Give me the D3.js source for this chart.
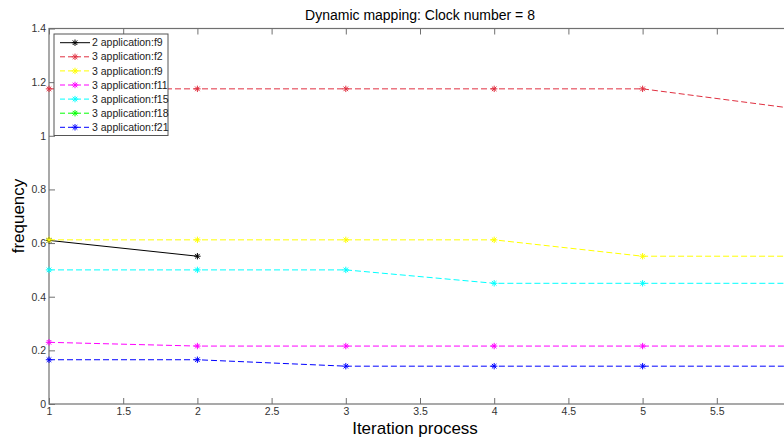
<!DOCTYPE html>
<html><head><meta charset="utf-8">
<script src="https://cdn.jsdelivr.net/npm/d3@7"></script>
<style>html,body{margin:0;padding:0;background:#fff;overflow:hidden}</style>
</head><body><svg id="c" width="784" height="439"></svg>
<script>
const iterations = [1, 2, 3, 4, 5, 6];
const xTicks = [1, 1.5, 2, 2.5, 3, 3.5, 4, 4.5, 5, 5.5];
const yTicks = [0, 0.2, 0.4, 0.6, 0.8, 1, 1.2, 1.4];
const seriesNames = ["2 application:f9","3 application:f2","3 application:f9","3 application:f11","3 application:f15","3 application:f18","3 application:f21"];
const seriesColors = ["#000000","#e03040","#ffff00","#ff00ff","#00ffff","#00ff00","#0000ff"];
const seriesDash = ["none","6,3","6,3","6,3","6,3","6,3","6,3"];
const vBlack   = [0.61, 0.551, null, null, null, null];
const vRed     = [1.175, 1.175, 1.175, 1.175, 1.175, 1.103];
const vYellow  = [0.612, 0.612, 0.612, 0.612, 0.551, 0.551];
const vMagenta = [0.23, 0.216, 0.216, 0.216, 0.216, 0.216];
const vCyan    = [0.50, 0.50, 0.50, 0.45, 0.45, 0.45];
const vGreen   = [null, null, null, null, null, null];
const vBlue    = [0.165, 0.165, 0.141, 0.141, 0.141, 0.141];
const allValues = [vBlack, vRed, vYellow, vMagenta, vCyan, vGreen, vBlue];

const svg = d3.select("#c");
const L = 49, R = 791, T = 28.5, B = 404;
const x = d3.scaleLinear().domain([1, 6]).range([L, R]);
const y = d3.scaleLinear().domain([0, 1.4]).range([B, T]);
const axisColor = "#707070", textColor = "#333";
const font = "Liberation Sans, Arial, sans-serif";

// frame
svg.append("rect").attr("x", L).attr("y", T).attr("width", R - L).attr("height", B - T)
  .attr("fill", "none").attr("stroke", axisColor).attr("stroke-width", 1.2);

const fmt = d => d3.format("")(d);
const xb = svg.append("g").attr("transform", `translate(0,${B})`)
  .call(d3.axisBottom(x).tickValues(xTicks).tickSize(-6).tickPadding(4).tickFormat(fmt));
const xt = svg.append("g").attr("transform", `translate(0,${T})`)
  .call(d3.axisTop(x).tickValues(xTicks).tickSize(-6).tickFormat(""));
const yl = svg.append("g").attr("transform", `translate(${L},0)`)
  .call(d3.axisLeft(y).tickValues(yTicks).tickSize(-6).tickPadding(3).tickFormat(fmt));
const yr = svg.append("g").attr("transform", `translate(${R},0)`)
  .call(d3.axisRight(y).tickValues(yTicks).tickSize(-6).tickFormat(""));
[xb, xt, yl, yr].forEach(g => {
  g.select(".domain").remove();
  g.selectAll(".tick line").attr("stroke", axisColor);
  g.selectAll(".tick text").attr("fill", textColor).attr("font-family", font).attr("font-size", 10.5);
});

// lines
const line = d3.line().defined(d => d.v !== null).x(d => x(d.i)).y(d => y(d.v));
function star(g, cx, cy, color) {
  const s = 3.2, d = 2.3;
  const p = `M${cx - s},${cy}L${cx + s},${cy}M${cx},${cy - s}L${cx},${cy + s}M${cx - d},${cy - d}L${cx + d},${cy + d}M${cx - d},${cy + d}L${cx + d},${cy - d}`;
  g.append("path").attr("d", p).attr("stroke", color).attr("stroke-width", 1).attr("fill", "none");
}
allValues.forEach((vals, k) => {
  const pts = iterations.map((i, j) => ({ i, v: vals[j] }));
  const g = svg.append("g");
  g.append("path").datum(pts).attr("d", line).attr("fill", "none")
    .attr("stroke", seriesColors[k]).attr("stroke-width", 1)
    .attr("stroke-dasharray", seriesDash[k] === "none" ? null : seriesDash[k]);
  pts.filter(d => d.v !== null).forEach(d => star(g, x(d.i), y(d.v), seriesColors[k]));
});

// legend
const lg = svg.append("g");
lg.append("rect").attr("x", 54).attr("y", 34).attr("width", 114).attr("height", 101.5)
  .attr("fill", "#fff").attr("stroke", "#555").attr("stroke-width", 1);
seriesNames.forEach((n, k) => {
  const yy = 42.7 + k * 14.1;
  lg.append("line").attr("x1", 60).attr("x2", 90).attr("y1", yy).attr("y2", yy)
    .attr("stroke", seriesColors[k]).attr("stroke-width", 1)
    .attr("stroke-dasharray", seriesDash[k] === "none" ? null : "5,3");
  star(lg, 75, yy, seriesColors[k]);
  lg.append("text").attr("x", 92).attr("y", yy + 3.6).text(n)
    .attr("font-family", font).attr("font-size", 10.5).attr("fill", "#222");
});

// title & labels
svg.append("text").attr("x", 420).attr("y", 20).attr("text-anchor", "middle")
  .attr("font-family", font).attr("font-size", 14).attr("fill", "#000")
  .text("Dynamic mapping: Clock number = 8");
svg.append("text").attr("x", 415).attr("y", 434).attr("text-anchor", "middle")
  .attr("font-family", font).attr("font-size", 17).attr("fill", "#000")
  .text("Iteration process");
svg.append("text").attr("transform", "translate(24,216) rotate(-90)").attr("text-anchor", "middle")
  .attr("font-family", font).attr("font-size", 17).attr("fill", "#000")
  .text("frequency");
</script></body></html>
